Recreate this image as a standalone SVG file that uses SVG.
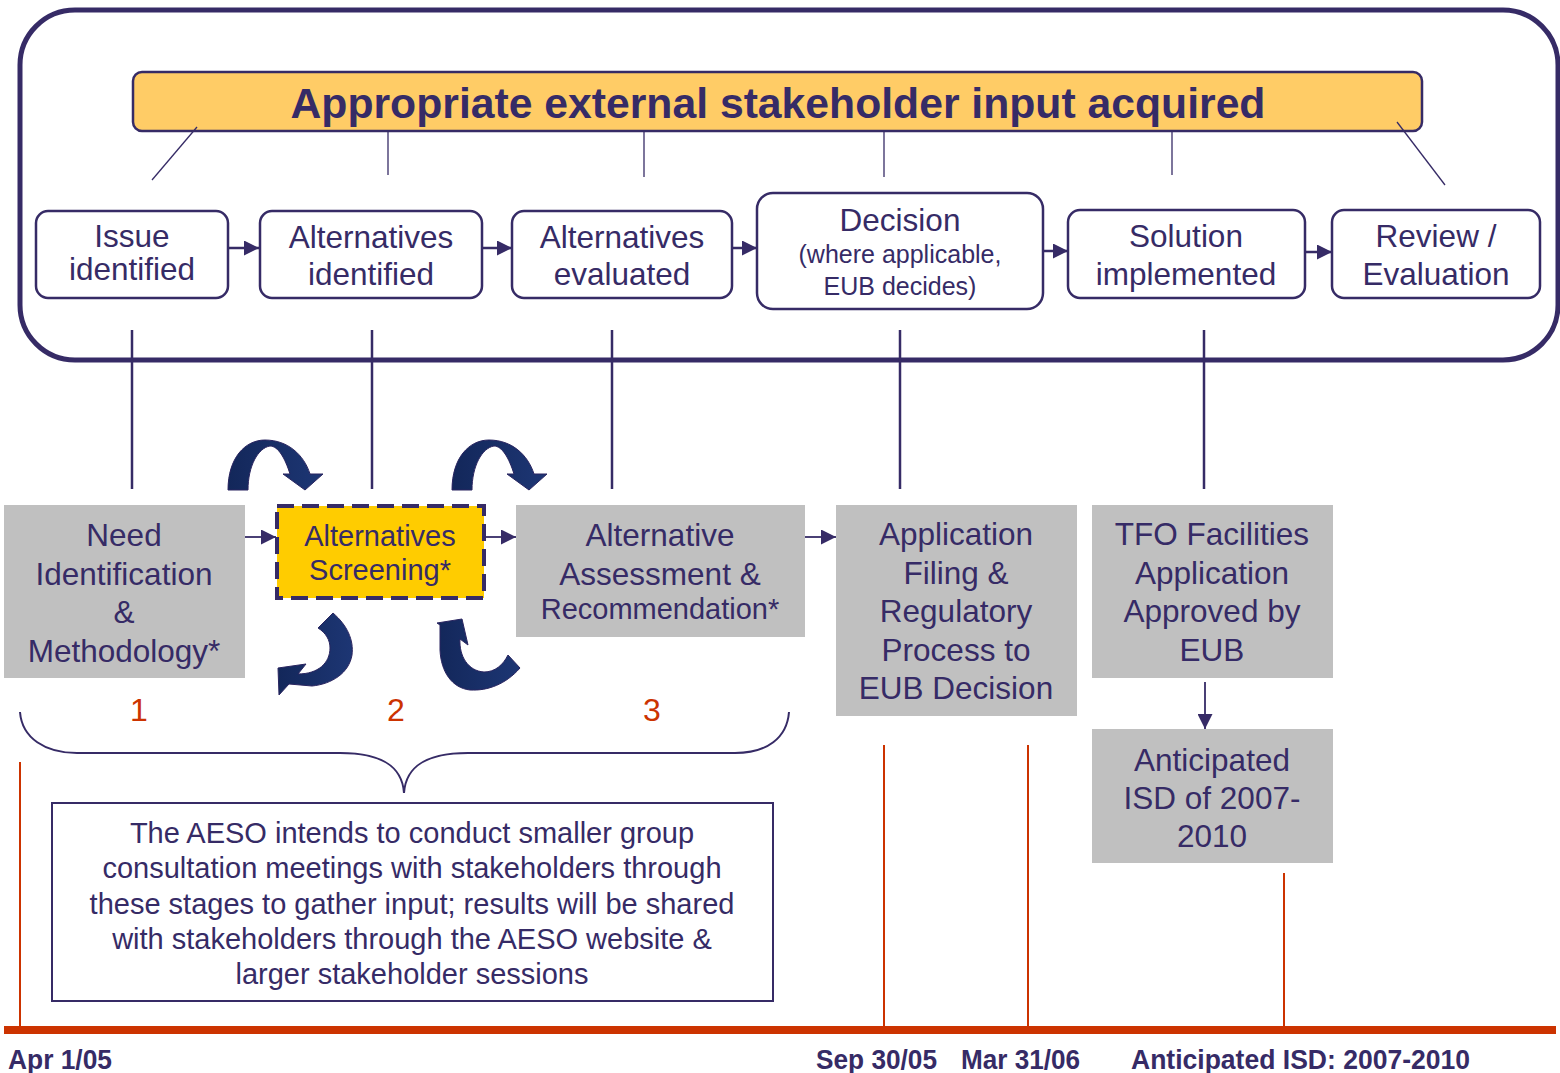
<svg xmlns="http://www.w3.org/2000/svg" width="1560" height="1073" viewBox="0 0 1560 1073">
<style>
text{font-family:"Liberation Sans",Arial,sans-serif;fill:#362B66;text-anchor:middle}
.t31{font-size:31.5px}
.tb{font-size:29px}
.num{font-size:32px;fill:#CC3300}
.date{font-size:28px;font-weight:bold;text-anchor:start}
.top{fill:#fff;stroke:#362B66;stroke-width:2.5}
.gray{fill:#C0C0C0}
.ln{stroke:#362B66;stroke-width:2.5;fill:none}
.thin{stroke:#362B66;stroke-width:1.3;fill:none}
.red{stroke:#CC3300;stroke-width:2;fill:none}
.curv{fill:url(#cg);stroke:#2A2560;stroke-width:1}
</style>
<defs>
<marker id="ah" viewBox="0 0 14 14" refX="14" refY="7" markerWidth="15" markerHeight="15" markerUnits="userSpaceOnUse" orient="auto"><path d="M0,0 L14,7 L0,14 z" fill="#362B66"/></marker>
<marker id="ah2" viewBox="0 0 14 14" refX="14" refY="7" markerWidth="16" markerHeight="15" markerUnits="userSpaceOnUse" orient="auto"><path d="M0,0 L14,7 L0,14 z" fill="#362B66"/></marker>
<linearGradient id="cg" x1="0" y1="0" x2="1" y2="0"><stop offset="0" stop-color="#13275A"/><stop offset="1" stop-color="#1D3674"/></linearGradient>
</defs>

<g id="frame">
<rect x="20" y="10" width="1538" height="350" rx="55" fill="none" stroke="#362B66" stroke-width="5"/>
</g>

<g id="banner">
<rect x="133" y="72" width="1289" height="59" rx="9" fill="#FFCC66" stroke="#362B66" stroke-width="2.5"/>
<text x="778" y="118" style="font-size:42.7px;font-weight:bold">Appropriate external stakeholder input acquired</text>
</g>

<g id="connectors">
<line class="thin" x1="197" y1="127" x2="152" y2="180"/>
<line class="thin" x1="388" y1="131" x2="388" y2="175"/>
<line class="thin" x1="644" y1="131" x2="644" y2="177"/>
<line class="thin" x1="884" y1="131" x2="884" y2="177"/>
<line class="thin" x1="1172" y1="131" x2="1172" y2="175"/>
<line class="thin" x1="1397" y1="122" x2="1445" y2="185"/>
<line class="ln" x1="229" y1="248" x2="259" y2="248" marker-end="url(#ah)"/>
<line class="ln" x1="483" y1="248" x2="512" y2="248" marker-end="url(#ah)"/>
<line class="ln" x1="733" y1="248" x2="757" y2="248" marker-end="url(#ah)"/>
<line class="ln" x1="1044" y1="251" x2="1068" y2="251" marker-end="url(#ah)"/>
<line class="ln" x1="1306" y1="252" x2="1332" y2="252" marker-end="url(#ah)"/>
<line class="ln" x1="132" y1="330" x2="132" y2="489"/>
<line class="ln" x1="372" y1="330" x2="372" y2="489"/>
<line class="ln" x1="612" y1="330" x2="612" y2="489"/>
<line class="ln" x1="900" y1="330" x2="900" y2="489"/>
<line class="ln" x1="1204" y1="330" x2="1204" y2="489"/>
<line class="thin" style="stroke-width:1.8" x1="245" y1="537" x2="276" y2="537" marker-end="url(#ah2)"/>
<line class="thin" style="stroke-width:1.8" x1="486" y1="537" x2="516" y2="537" marker-end="url(#ah2)"/>
<line class="thin" style="stroke-width:1.8" x1="805" y1="537" x2="836" y2="537" marker-end="url(#ah2)"/>
<line class="thin" style="stroke-width:1.8" x1="1205" y1="682" x2="1205" y2="729" marker-end="url(#ah2)"/>
<path class="curv" d="M228,490 C228,458 245,440 265,440 C288,440 304,455 310,474 L323,474 L305,490 L283,474 L290,474 C285,458 278,446 270,446 C258,448 248,466 248,490 Z"/>
<path class="curv" transform="translate(224,0)" d="M228,490 C228,458 245,440 265,440 C288,440 304,455 310,474 L323,474 L305,490 L283,474 L290,474 C285,458 278,446 270,446 C258,448 248,466 248,490 Z"/>
<path class="curv" d="M333,613 C347,625 354,640 352,655 C349,673 332,684 312,686 L289,684 L279,695 L278,668 L306,664 L298,674 C318,674 330,663 330,648 C330,640 326,633 318,628 Z"/>
<path class="curv" d="M520,668 C506,684 488,691 470,690 C452,688 441,672 440,650 L440,625 L437,623 L462,619 L468,645 L460,639 C459,656 468,671 484,672 C495,672 503,665 508,655 Z"/>
<path class="ln" style="stroke-width:2" d="M20,712 C22,738 45,753 77,753 L340,753 C380,753 402,765 404,793 C406,765 428,753 468,753 L735,753 C767,753 787,738 789,712"/>
<line class="red" x1="20" y1="762" x2="20" y2="1030"/>
<line class="red" x1="884" y1="745" x2="884" y2="1030"/>
<line class="red" x1="1028" y1="745" x2="1028" y2="1030"/>
<line class="red" x1="1284" y1="873" x2="1284" y2="1030"/>
</g>

<g id="issue-identified">
<rect class="top" x="36" y="211" width="192" height="87" rx="12"/>
<text class="t31" x="132" y="247">Issue</text>
<text class="t31" x="132" y="280">identified</text>
</g>
<g id="alternatives-identified">
<rect class="top" x="260" y="211" width="222" height="87" rx="12"/>
<text class="t31" x="371" y="248">Alternatives</text>
<text class="t31" x="371" y="285">identified</text>
</g>
<g id="alternatives-evaluated">
<rect class="top" x="512" y="211" width="220" height="87" rx="12"/>
<text class="t31" x="622" y="248">Alternatives</text>
<text class="t31" x="622" y="285">evaluated</text>
</g>
<g id="decision">
<rect class="top" x="757" y="193" width="286" height="116" rx="16"/>
<text class="t31" x="900" y="231">Decision</text>
<text x="900" y="263" style="font-size:25px">(where applicable,</text>
<text x="900" y="295" style="font-size:25px">EUB decides)</text>
</g>
<g id="solution-implemented">
<rect class="top" x="1068" y="210" width="237" height="88" rx="12"/>
<text class="t31" x="1186" y="247">Solution</text>
<text class="t31" x="1186" y="285">implemented</text>
</g>
<g id="review-evaluation">
<rect class="top" x="1332" y="210" width="208" height="88" rx="12"/>
<text class="t31" x="1436" y="247">Review /</text>
<text class="t31" x="1436" y="285">Evaluation</text>
</g>

<g id="need-identification">
<rect class="gray" x="4" y="505" width="241" height="173"/>
<text class="t31" x="124" y="546">Need</text>
<text class="t31" x="124" y="585">Identification</text>
<text class="t31" x="124" y="623">&amp;</text>
<text class="t31" x="124" y="662">Methodology*</text>
</g>
<g id="alternatives-screening">
<rect x="277" y="506" width="207" height="92" fill="#FFCC00" stroke="#362B66" stroke-width="4" stroke-dasharray="17 8"/>
<text x="380" y="546" style="font-size:29px">Alternatives</text>
<text x="380" y="580" style="font-size:29px">Screening*</text>
</g>
<g id="alternative-assessment">
<rect class="gray" x="516" y="505" width="289" height="132"/>
<text class="t31" x="660" y="546">Alternative</text>
<text class="t31" x="660" y="585">Assessment &amp;</text>
<text x="660" y="619" style="font-size:29px">Recommendation*</text>
</g>
<g id="application-filing">
<rect class="gray" x="836" y="505" width="241" height="211"/>
<text class="t31" x="956" y="545">Application</text>
<text class="t31" x="956" y="584">Filing &amp;</text>
<text class="t31" x="956" y="622">Regulatory</text>
<text class="t31" x="956" y="661">Process to</text>
<text class="t31" x="956" y="699">EUB Decision</text>
</g>
<g id="tfo-facilities">
<rect class="gray" x="1092" y="505" width="241" height="173"/>
<text class="t31" x="1212" y="545">TFO Facilities</text>
<text class="t31" x="1212" y="584">Application</text>
<text class="t31" x="1212" y="622">Approved by</text>
<text class="t31" x="1212" y="661">EUB</text>
</g>
<g id="anticipated-isd">
<rect class="gray" x="1092" y="729" width="241" height="134"/>
<text class="t31" x="1212" y="771">Anticipated</text>
<text class="t31" x="1212" y="809">ISD of 2007-</text>
<text class="t31" x="1212" y="847">2010</text>
</g>

<g id="stage-numbers">
<text class="num" x="139" y="721">1</text>
<text class="num" x="396" y="721">2</text>
<text class="num" x="652" y="721">3</text>
</g>

<g id="note">
<rect x="52" y="803" width="721" height="198" fill="#fff" stroke="#362B66" stroke-width="2"/>
<text class="tb" x="412" y="843">The AESO intends to conduct smaller group</text>
<text class="tb" x="412" y="878">consultation meetings with stakeholders through</text>
<text class="tb" x="412" y="914">these stages to gather input; results will be shared</text>
<text class="tb" x="412" y="949">with stakeholders through the AESO website &amp;</text>
<text class="tb" x="412" y="984">larger stakeholder sessions</text>
</g>

<g id="timeline">
<rect x="4" y="1026" width="1552" height="8" fill="#CC3300"/>
<text class="date" x="8" y="1069" textLength="104" lengthAdjust="spacingAndGlyphs">Apr 1/05</text>
<text class="date" x="816" y="1069" textLength="121" lengthAdjust="spacingAndGlyphs">Sep 30/05</text>
<text class="date" x="961" y="1069" textLength="119" lengthAdjust="spacingAndGlyphs">Mar 31/06</text>
<text class="date" x="1131" y="1069" textLength="339" lengthAdjust="spacingAndGlyphs">Anticipated ISD: 2007-2010</text>
</g>
</svg>
